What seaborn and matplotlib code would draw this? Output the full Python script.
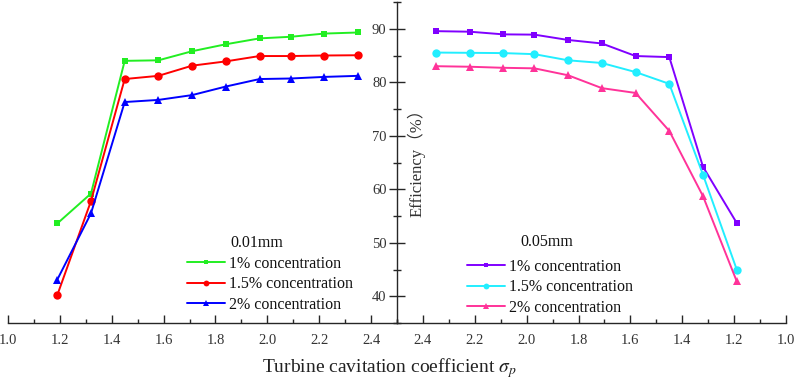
import numpy as np
import pandas as pd
import matplotlib
matplotlib.use("Agg")
import matplotlib.pyplot as plt
from matplotlib.ticker import MultipleLocator, FormatStrFormatter
import seaborn as sns

# ---------------- data ----------------
sigma = [1.19, 1.32, 1.45, 1.58, 1.71, 1.84, 1.97, 2.09, 2.22, 2.35]

# 0.01 mm particles (left panel)
eff_001_c1 = [53.6, 59.2, 84.0, 84.1, 85.8, 87.1, 88.2, 88.5, 89.1, 89.3]
eff_001_c15 = [40.2, 57.8, 80.6, 81.2, 83.1, 83.9, 84.9, 84.9, 85.0, 85.05]
eff_001_c2 = [43.1, 55.5, 76.3, 76.7, 77.6, 79.2, 80.6, 80.7, 81.0, 81.2]

# 0.05 mm particles (right panel), same sigma values
eff_005_c1 = [53.7, 64.2, 84.7, 84.9, 87.25, 87.9, 88.9, 88.95, 89.45, 89.55]
eff_005_c15 = [45.0, 62.7, 79.7, 81.9, 83.6, 84.1, 85.25, 85.45, 85.5, 85.55]
eff_005_c2 = [42.8, 58.7, 70.9, 78.0, 78.9, 81.3, 82.6, 82.7, 82.9, 83.0]

labels = ["1% concentration", "1.5% concentration", "2% concentration"]
titles = ["0.01mm", "0.05mm"]
xlabel = "Turbine cavitation coefficient $\\sigma_p$"
ylabel = "Efficiency\uff08%\uff09"

# ---------------- style ----------------
sns.set_style("ticks")
plt.rcParams["font.family"] = ["Liberation Serif", "Noto Sans CJK SC"]
plt.rcParams["mathtext.fontset"] = "stix"
plt.rcParams["axes.linewidth"] = 1.0

W, H = 796, 380
fig = plt.figure(figsize=(W / 100, H / 100), dpi=100)

def fx(px):
    return px / W

def fy(py):
    return 1 - py / H

ax_top, ax_bot = 2, 323
ax1 = fig.add_axes([fx(8), fy(ax_bot), fx(389), (ax_bot - ax_top) / H])
ax2 = fig.add_axes([fx(397), fy(ax_bot), fx(389), (ax_bot - ax_top) / H])

left_series = [eff_001_c1, eff_001_c15, eff_001_c2]
right_series = [eff_005_c1, eff_005_c15, eff_005_c2]
left_colors = ["#22ee22", "#ff0000", "#0000ff"]
right_colors = ["#8000ff", "#22eeff", "#ff3399"]
markers = ["s", "o", "^"]
msizes = [5.0, 6.0, 6.0]

for ax, series, colors in [(ax1, left_series, left_colors), (ax2, right_series, right_colors)]:
    for vals, col, mk, ms, lab in zip(series, colors, markers, msizes, labels):
        df = pd.DataFrame({"sigma": sigma, "eff": vals})
        sns.lineplot(data=df, x="sigma", y="eff", ax=ax, color=col, marker=mk,
                     markersize=ms, markeredgewidth=0, linewidth=1.4, label=lab)

tick_color = "#333333"
for ax in (ax1, ax2):
    ax.set_ylim(35, 95)
    ax.xaxis.set_major_locator(MultipleLocator(0.2))
    ax.xaxis.set_minor_locator(MultipleLocator(0.1))
    ax.xaxis.set_major_formatter(FormatStrFormatter("%.1f"))
    ax.tick_params(axis="x", which="major", direction="in", length=6, width=1,
                   labelsize=10.5, labelcolor=tick_color, pad=8)
    ax.tick_params(axis="x", which="minor", direction="in", length=3, width=1)
    ax.set_xlabel("")
    ax.set_ylabel("")
    ax.spines["top"].set_visible(False)
    ax.spines["right"].set_visible(False)
    ax.patch.set_alpha(0)

ax1.set_xlim(1.0, 2.5)
ax2.set_xlim(2.5, 1.0)

ax1.spines["left"].set_visible(False)
ax1.tick_params(axis="y", which="both", left=False, labelleft=False)

ax2.yaxis.set_major_locator(MultipleLocator(10))
ax2.yaxis.set_minor_locator(MultipleLocator(5))
ax2.tick_params(axis="y", which="major", direction="inout", length=11, width=1,
                labelsize=10.5, labelcolor=tick_color, pad=2)
ax2.tick_params(axis="y", which="minor", direction="inout", length=6, width=1)
ax2.set_ylabel(ylabel, fontsize=12, color=tick_color)
ax2.yaxis.set_label_coords(0.074, 0.51)

# legends
leg_kw = dict(frameon=False, fontsize=11.5, handlelength=2.4, handletextpad=0.25,
              labelspacing=0.28, borderpad=0, borderaxespad=0, markerscale=0.7,
              loc="upper left")
l1 = ax1.legend(bbox_to_anchor=(fx(187), fy(256)), bbox_transform=fig.transFigure, **leg_kw)
l2 = ax2.legend(bbox_to_anchor=(fx(467), fy(259)), bbox_transform=fig.transFigure, **leg_kw)
for leg in (l1, l2):
    for t in leg.get_texts():
        t.set_color("#111111")

fig.text(fx(230), fy(243), titles[0], fontsize=11.5, ha="left", va="center", color="#111111")
fig.text(fx(520), fy(242), titles[1], fontsize=11.5, ha="left", va="center", color="#111111")

fig.text(fx(389), fy(368), xlabel, fontsize=14, ha="center", va="center", color="#222222")

fig.savefig("out.png", dpi=100)
